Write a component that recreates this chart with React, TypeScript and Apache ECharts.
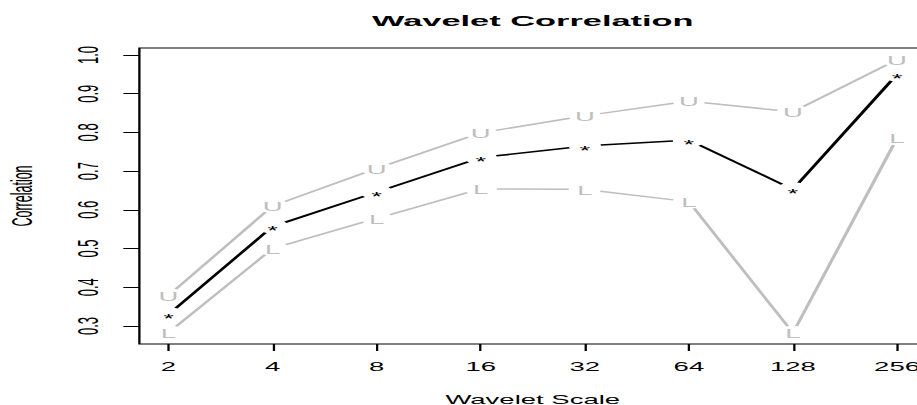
import React, { useEffect, useRef } from "react";
import * as echarts from "echarts";

// ---- data ----
const scales = [2, 4, 8, 16, 32, 64, 128, 256];
const correlation = [0.33, 0.557, 0.646, 0.735, 0.765, 0.78, 0.653, 0.95];
const upper = [0.379, 0.61, 0.707, 0.799, 0.843, 0.881, 0.853, 0.988];
const lower = [0.283, 0.5, 0.578, 0.654, 0.653, 0.621, 0.282, 0.785];
const yTicks = [0.3, 0.4, 0.5, 0.6, 0.7, 0.8, 0.9, 1.0];
const titleText = "Wavelet Correlation";
const xName = "Wavelet Scale";
const yName = "Correlation";

// ---- layout (chart drawn narrow, then stretched horizontally like the reference) ----
const SX = 2.2925;
const W = 410;
const H = 405;
const FONT = '"Liberation Sans", Arial, Helvetica, sans-serif';
const GRAY = "#bebebe";
const GAP = 7;

const xs = scales.map((s) => Math.log2(s));

function segments(vals: number[]) {
  return xs.slice(0, -1).map((x, i) => [x, vals[i], xs[i + 1], vals[i + 1]]);
}
function points(vals: number[]) {
  return xs.map((x, i) => [x, vals[i]]);
}

function lineSeries(vals: number[], color: string, width: number) {
  return {
    type: "custom",
    coordinateSystem: "cartesian2d",
    data: segments(vals),
    encode: { x: [0, 2], y: [1, 3] },
    silent: true,
    renderItem: (_p: any, api: any) => {
      const a = api.coord([api.value(0), api.value(1)]);
      const b = api.coord([api.value(2), api.value(3)]);
      const dx = b[0] - a[0];
      const dy = b[1] - a[1];
      const len = Math.hypot(dx, dy);
      if (len <= 2 * GAP) return null;
      const ux = dx / len;
      const uy = dy / len;
      return {
        type: "line",
        shape: {
          x1: a[0] + ux * GAP,
          y1: a[1] + uy * GAP,
          x2: b[0] - ux * GAP,
          y2: b[1] - uy * GAP,
        },
        style: { stroke: color, lineWidth: width, lineCap: "butt" },
      };
    },
  };
}

function markerSeries(vals: number[], ch: string, color: string, dy: number) {
  return {
    type: "custom",
    coordinateSystem: "cartesian2d",
    data: points(vals),
    encode: { x: 0, y: 1 },
    silent: true,
    renderItem: (_p: any, api: any) => {
      const p = api.coord([api.value(0), api.value(1)]);
      return {
        type: "text",
        x: p[0],
        y: p[1] + dy,
        style: {
          text: ch,
          fill: color,
          font: `12px ${FONT}`,
          align: "center",
          verticalAlign: "middle",
        },
      };
    },
  };
}

export default function App() {
  const ref = useRef<HTMLDivElement>(null);
  useEffect(() => {
    if (!ref.current) return;
    const chart = echarts.init(ref.current, undefined, { renderer: "svg" });
    const gridLeft = 60.8;
    const gridRight = W - 404;
    const gridTop = 48;
    const gridBottom = H - 344;
    chart.setOption({
      animation: false,
      backgroundColor: "#fff",
      graphic: [
        {
          type: "text",
          x: (gridLeft + (W - gridRight)) / 2,
          y: 20.5,
          style: {
            text: titleText,
            font: `bold 15px ${FONT}`,
            fill: "#000",
            align: "center",
            verticalAlign: "middle",
            textAlign: "center",
            textVerticalAlign: "middle",
          },
        },
      ],
      grid: {
        left: gridLeft,
        right: gridRight,
        top: gridTop,
        bottom: gridBottom,
        show: true,
        borderColor: "#000",
        borderWidth: 1,
        backgroundColor: "transparent",
        containLabel: false,
        outerBoundsMode: "none",
      },
      xAxis: {
        type: "value",
        min: 0.72,
        max: 8.28,
        axisLine: { show: false },
        splitLine: { show: false },
        axisTick: {
          show: true,
          customValues: xs,
          length: 7,
          lineStyle: { color: "#000", width: 1 },
        },
        axisLabel: {
          customValues: xs,
          formatter: (v: number) => String(Math.round(Math.pow(2, v))),
          margin: 17,
          color: "#000",
          fontSize: 12,
          fontFamily: FONT,
        },
        name: xName,
        nameLocation: "middle",
        nameGap: 49.5,
        nameTextStyle: { color: "#000", fontSize: 12, fontFamily: FONT },
      },
      yAxis: {
        type: "value",
        min: 0.2535,
        max: 1.018,
        axisLine: { show: false },
        splitLine: { show: false },
        axisTick: {
          show: true,
          customValues: yTicks,
          length: 7,
          lineStyle: { color: "#000", width: 1 },
        },
        axisLabel: {
          customValues: yTicks,
          formatter: (v: number) => v.toFixed(1),
          rotate: 90,
          margin: 16,
          color: "#000",
          fontSize: 13,
          fontFamily: FONT,
        },
        name: yName,
        nameLocation: "middle",
        nameRotate: 90,
        nameGap: 44.5,
        nameTextStyle: { color: "#000", fontSize: 12.5, fontFamily: FONT },
      },
      series: [
        lineSeries(upper, GRAY, 1.5),
        lineSeries(lower, GRAY, 1.5),
        lineSeries(correlation, "#000", 1.6),
        markerSeries(upper, "U", GRAY, 1),
        markerSeries(lower, "L", GRAY, 1),
        markerSeries(correlation, "*", "#000", 4.5),
      ],
    });
    return () => chart.dispose();
  }, []);

  return (
    <div
      style={{
        position: "fixed",
        left: 0,
        top: 0,
        width: 917,
        height: 405,
        overflow: "hidden",
        background: "#fff",
      }}
    >
      <div
        ref={ref}
        style={{
          width: W,
          height: H,
          transform: `scaleX(${SX})`,
          transformOrigin: "0 0",
        }}
      />
    </div>
  );
}
